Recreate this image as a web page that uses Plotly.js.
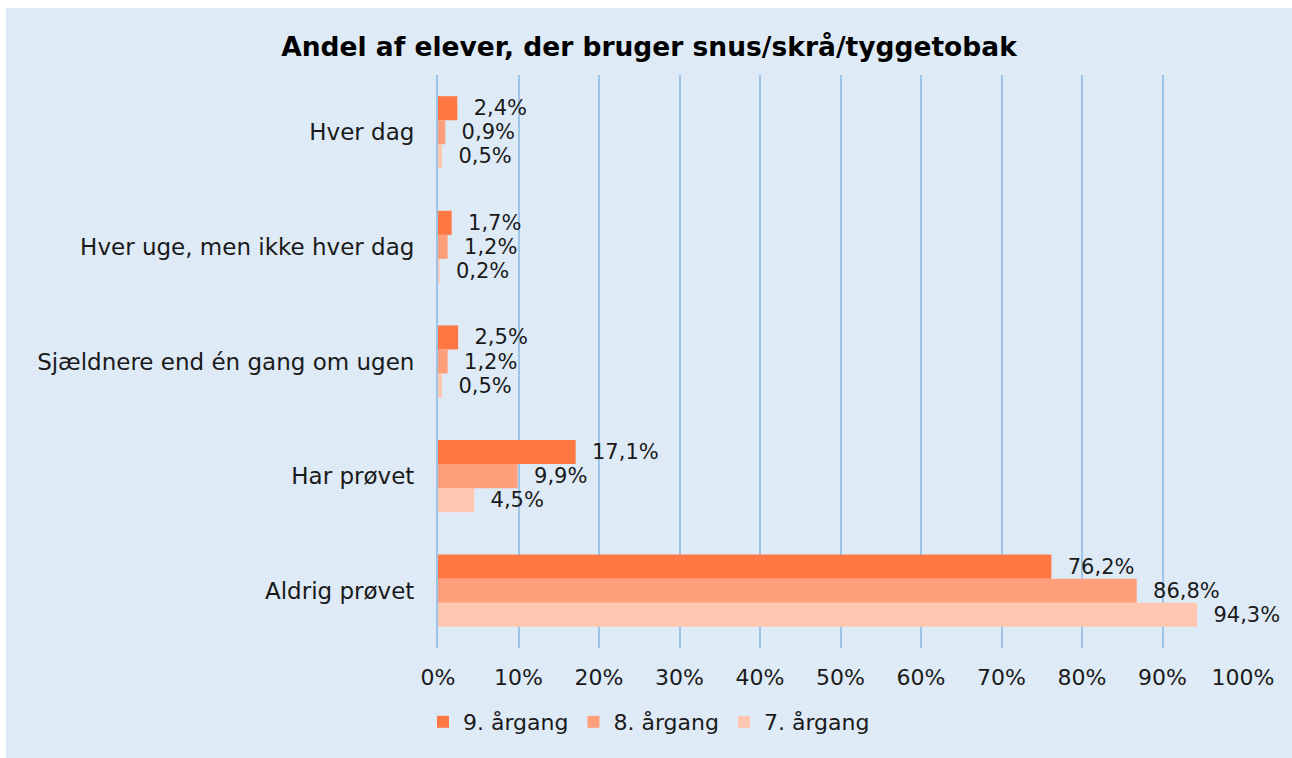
<!DOCTYPE html>
<html>
<head>
<meta charset="utf-8">
<script src="https://cdn.plot.ly/plotly-3.0.1.min.js"></script>
<style>
  html, body { margin: 0; padding: 0; background: #ffffff; }
  #chart { position: absolute; left: 6px; top: 8px; width: 1286px; height: 750px; }
</style>
</head>
<body>
<div id="chart"></div>
<script>
const categories = ["Hver dag", "Hver uge, men ikke hver dag", "Sjældnere end én gang om ugen", "Har prøvet", "Aldrig prøvet"];
const seriesNames = ["9. årgang", "8. årgang", "7. årgang"];
const grade9 = [2.4, 1.7, 2.5, 17.1, 76.2];
const grade8 = [0.9, 1.2, 1.2, 9.9, 86.8];
const grade7 = [0.5, 0.2, 0.5, 4.5, 94.3];
const xTickValues = [0, 10, 20, 30, 40, 50, 60, 70, 80, 90, 100];
const xTickLabels = ["0%", "10%", "20%", "30%", "40%", "50%", "60%", "70%", "80%", "90%", "100%"];

const colors = ["#FF7843", "#FF9E7A", "#FFC6B0"];
const seriesValues = [grade9, grade8, grade7];
const FONT = "'DejaVu Sans', sans-serif";

const traces = seriesValues.map((vals, i) => ({
  type: "bar",
  orientation: "h",
  name: seriesNames[i],
  y: categories,
  x: vals,
  marker: { color: colors[i] },
  texttemplate: "\u00A0\u00A0%{x:.1f}%",
  textposition: "outside",
  constraintext: "none",
  cliponaxis: false,
  textfont: { family: FONT, size: 21, color: "#1a1a1a" },
  hoverinfo: "none"
}));

const layout = {
  width: 1286,
  height: 750,
  paper_bgcolor: "#DEEBF7",
  plot_bgcolor: "#DEEBF7",
  separators: ", ",
  font: { family: FONT, color: "#1a1a1a" },
  title: {
    text: "<b>Andel af elever, der bruger snus/skrå/tyggetobak</b>",
    font: { family: FONT, size: 26.5, color: "#000000" },
    x: 0.5, xanchor: "center", xref: "container",
    y: 0.948, yanchor: "middle", yref: "container"
  },
  margin: { l: 432, r: 49, t: 67, b: 110, pad: 0 },
  barmode: "group",
  bargap: 0.37,
  bargroupgap: 0,
  xaxis: {
    range: [0, 100],
    tickvals: xTickValues,
    ticktext: xTickLabels,
    showgrid: true,
    gridcolor: "#9DC3E6",
    gridwidth: 2,
    zeroline: false,
    showline: false,
    ticks: "",
    ticklabelstandoff: 14,
    tickfont: { family: FONT, size: 22, color: "#1a1a1a" },
    fixedrange: true
  },
  yaxis: {
    autorange: "reversed",
    showgrid: false,
    zeroline: false,
    showline: true,
    linecolor: "#9DC3E6",
    linewidth: 2,
    ticks: "",
    ticklabelstandoff: 17,
    tickfont: { family: FONT, size: 23, color: "#1a1a1a" },
    fixedrange: true
  },
  showlegend: true,
  legend: {
    orientation: "h",
    x: 0.5, xanchor: "center", xref: "container",
    y: 0.048, yanchor: "middle", yref: "container",
    font: { family: FONT, size: 22, color: "#1a1a1a" },
    bgcolor: "rgba(0,0,0,0)",
    itemwidth: 30,
    traceorder: "normal"
  }
};

Plotly.newPlot("chart", traces, layout, { displayModeBar: false, staticPlot: true });
</script>
</body>
</html>
